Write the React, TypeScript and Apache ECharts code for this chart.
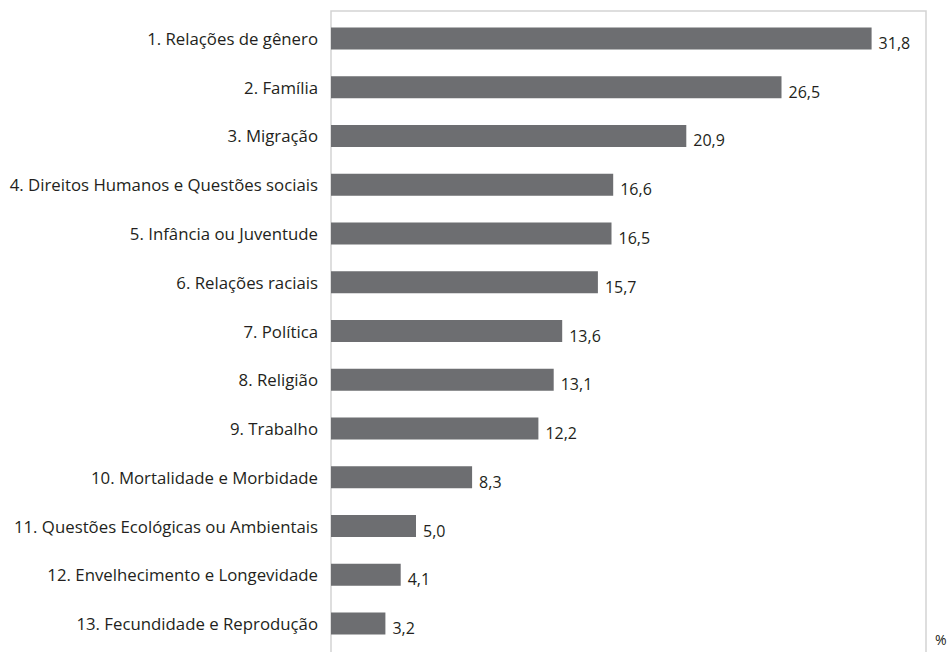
import React, { useEffect, useRef } from "react";
import * as echarts from "echarts";

const categories = [
  "1. Relações de gênero",
  "2. Família",
  "3. Migração",
  "4. Direitos Humanos e Questões sociais",
  "5. Infância ou Juventude",
  "6. Relações raciais",
  "7. Política",
  "8. Religião",
  "9. Trabalho",
  "10. Mortalidade e Morbidade",
  "11. Questões Ecológicas ou Ambientais",
  "12. Envelhecimento e Longevidade",
  "13. Fecundidade e Reprodução",
];

const values = [31.8, 26.5, 20.9, 16.6, 16.5, 15.7, 13.6, 13.1, 12.2, 8.3, 5.0, 4.1, 3.2];

const unitLabel = "%";

const FONT = "'Open Sans', 'Noto Sans', sans-serif";
const TEXT = "#231f20";

export default function App() {
  const ref = useRef<HTMLDivElement>(null);
  useEffect(() => {
    if (!ref.current) return;
    const chart = echarts.init(ref.current, undefined, { renderer: "svg" });
    chart.setOption({
      animation: false,
      backgroundColor: "#ffffff",
      grid: { left: 331, right: 23, top: 14, height: 634, containLabel: false },
      xAxis: {
        type: "value",
        min: 0,
        max: 35,
        show: false,
      },
      yAxis: {
        type: "category",
        inverse: true,
        data: categories,
        axisLine: { show: false },
        axisTick: { show: false },
        splitLine: { show: false },
        axisLabel: {
          color: TEXT,
          fontFamily: FONT,
          fontSize: 16.8,
          margin: 13,
        },
      },
      series: [
        {
          type: "bar",
          data: values,
          barWidth: 22,
          itemStyle: { color: "#6d6e71" },
          label: {
            show: true,
            position: "right",
            distance: 7,
            offset: [0, 4.5],
            color: TEXT,
            fontFamily: FONT,
            fontSize: 16,
            formatter: (p: any) => Number(p.value).toFixed(1).replace(".", ","),
          },
        },
      ],
      graphic: [
        {
          type: "polyline",
          shape: { points: [[331, 660], [331, 11], [926, 11], [926, 660]] },
          style: { stroke: "#d3d3d3", lineWidth: 1.5, fill: "none" },
          silent: true,
        },
        {
          type: "text",
          x: 935,
          y: 632,
          style: {
            text: unitLabel,
            fill: TEXT,
            font: `14px ${FONT}`,
            textVerticalAlign: "top",
          },
        },
      ],
    });
    return () => chart.dispose();
  }, []);
  return (
    <div
      ref={ref}
      style={{ position: "fixed", left: 0, top: 0, width: 949, height: 652 }}
    />
  );
}
